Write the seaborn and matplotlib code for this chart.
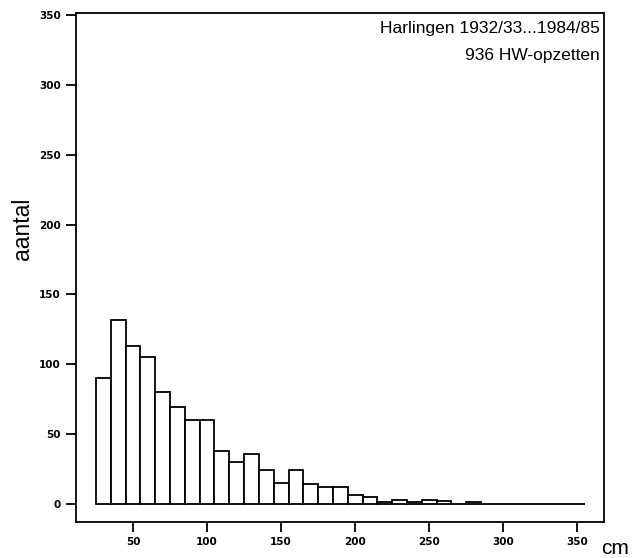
import numpy as np
import pandas as pd
import matplotlib
matplotlib.use("Agg")
import matplotlib.pyplot as plt
import seaborn as sns

# histogram of storm surge heights (cm), bins of 10 cm from 25 to 355
bin_edges = list(range(25, 356, 10))
counts = [90, 132, 113, 105, 80, 69, 60, 60, 38, 30, 36, 24, 15, 24, 14, 12,
          12, 6, 5, 1, 3, 1, 3, 2, 0, 1, 0, 0, 0, 0, 0, 0, 0]
bin_mid = [e + 5 for e in bin_edges[:-1]]

y_ticks = [0, 50, 100, 150, 200, 250, 300, 350]
x_ticks = [50, 100, 150, 200, 250, 300, 350]
title_lines = ["Harlingen 1932/33...1984/85", "936 HW-opzetten"]

df = pd.DataFrame({"cm": bin_mid, "aantal": counts})

sns.set_style("ticks", {"text.color": "black", "xtick.color": "black",
                        "ytick.color": "black", "axes.labelcolor": "black",
                        "axes.edgecolor": "black"})
plt.rcParams["font.family"] = ["Liberation Sans", "DejaVu Sans"]

fig = plt.figure(figsize=(6.38, 5.58), dpi=100)
ax = fig.add_axes([76 / 638, 36 / 558, 528 / 638, 509 / 558])

sns.histplot(data=df, x="cm", weights="aantal", bins=bin_edges, ax=ax,
             color="white", edgecolor="black", linewidth=1.3, alpha=1)

ax.set_xlim(11.5, 368)
ax.set_ylim(-13, 351.5)
ax.set_xticks(x_ticks)
ax.set_yticks(y_ticks)
ax.tick_params(axis="both", direction="out", length=7, width=1.3,
               color="black", labelcolor="black", pad=4)
for lab in ax.get_xticklabels() + ax.get_yticklabels():
    lab.set_fontfamily("DejaVu Sans")
    lab.set_fontweight("bold")
    lab.set_fontsize(7.5)
for sp in ax.spines.values():
    sp.set_visible(True)
    sp.set_linewidth(1.3)
    sp.set_color("black")
ax.set_xlabel("")
ax.set_ylabel("")

ax.text(0.992, 0.961, title_lines[0], transform=ax.transAxes,
        ha="right", va="baseline", fontsize=12.5, color="black")
ax.text(0.992, 0.908, title_lines[1], transform=ax.transAxes,
        ha="right", va="baseline", fontsize=12.5, color="black")

fig.text(22 / 638, 1 - 229 / 558, "aantal", rotation=90,
         ha="center", va="center", fontsize=16.5, color="black")
fig.text(601 / 638, 1 - 554 / 558, "cm", ha="left", va="baseline",
         fontsize=15, color="black")

fig.savefig("out.png", dpi=100)
